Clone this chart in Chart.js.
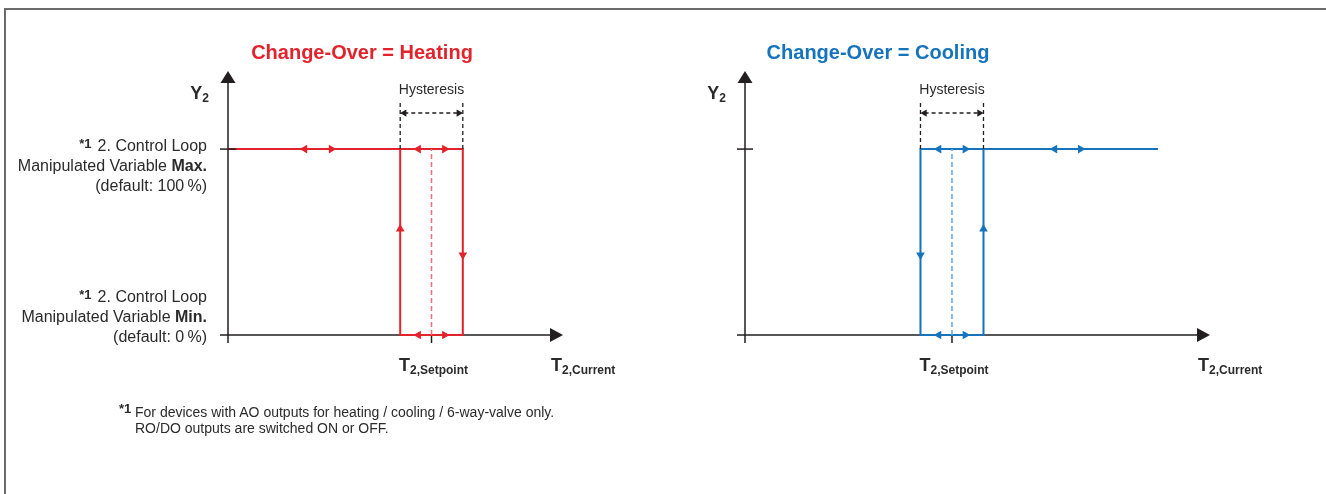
<!DOCTYPE html>
<html>
<head>
<meta charset="utf-8">
<script src="https://cdn.jsdelivr.net/npm/chart.js@4.4.1/dist/chart.umd.min.js"></script>
<style>
  html, body { margin: 0; padding: 0; background: #fff; width: 1326px; height: 494px; overflow: hidden; }
  body { position: relative; font-family: "Liberation Sans", Arial, Helvetica, sans-serif; color: #2b2b2b; }
  .frame { position: absolute; left: 4px; top: 8px; width: 1400px; height: 600px;
           border-top: 2px solid #6b6b6b; border-left: 2px solid #6b6b6b; }
  .panel { position: absolute; top: 0; }
  #heatCanvas { left: 0; }
  #coolCanvas { left: 660px; }
  .note-mark { position: absolute; left: 119px; top: 401px; font-size: 13px; font-weight: bold; }
  .note { position: absolute; left: 135px; top: 404px; font-size: 14px; line-height: 16px; }
</style>
</head>
<body>
<div class="frame"></div>
<canvas id="heatCanvas" class="panel" width="660" height="494"></canvas>
<canvas id="coolCanvas" class="panel" width="666" height="494"></canvas>
<div class="note-mark">*1</div>
<div class="note">For devices with AO outputs for heating / cooling / 6-way-valve only.<br>RO/DO outputs are switched ON or OFF.</div>
<script>
(function () {
  // Heating: top line from the axis, loop around the setpoint (hysteresis = +-1)
  const heatLoopX = [-6.5, 1, 1, -1, -1];
  const heatLoopY = [100, 100, 0, 0, 100];
  const heatArrowX = [-4.05, -3.2, -0.42, 0.42, -0.42, 0.42, -1, 1];
  const heatArrowY = [100, 100, 100, 100, 0, 0, 57, 43];
  const heatArrowDir = [270, 90, 270, 90, 270, 90, 0, 180];

  // Cooling: loop around the setpoint, then top line to the right
  const coolLoopX = [1, 1, -1, -1, 6.54];
  const coolLoopY = [100, 0, 0, 100, 100];
  const coolArrowX = [-0.42, 0.42, 3.26, 4.08, -0.42, 0.42, -1, 1];
  const coolArrowY = [100, 100, 100, 100, 0, 0, 43, 57];
  const coolArrowDir = [270, 90, 270, 90, 270, 90, 180, 0];

  const setpointX = [0, 0];
  const setpointY = [0, 100];
  const hystEdgeX = [-1, 1];
  const hystLineY = [100, 124.8];
  const hystArrowY = 119.4;
  const hystArrowX = [-0.87, 0.87];

  const heatRangeX = [-6.5, 4.2];
  const coolRangeX = [-6.57, 8.19];
  const rangeY = [0, 142];

  const maxLines = [
    [["2. Control Loop", false]],
    [["Manipulated Variable ", false], ["Max.", true]],
    [["(default: 100\u2009%)", false]],
  ];
  const minLines = [
    [["2. Control Loop", false]],
    [["Manipulated Variable ", false], ["Min.", true]],
    [["(default: 0\u2009%)", false]],
  ];

  const ink = "#231f20";
  const textInk = "#2b2b2b";
  const fontFamily = '"Liberation Sans", Arial, Helvetica, sans-serif';
  const red = "#e3232c";
  const redLight = "#ee6f76";
  const blue = "#1574bb";
  const blueLight = "#66a8da";

  function pts(xs, ys) {
    return xs.map(function (v, i) {
      return { x: v, y: Array.isArray(ys) ? ys[i] : ys };
    });
  }

  function font(size, bold) {
    return (bold ? "bold " : "") + size + "px " + fontFamily;
  }

  // draw a list of [text, bold] runs, right-aligned at x
  function drawRunsRight(ctx, runs, x, y, size) {
    let width = 0;
    runs.forEach(function (r) {
      ctx.font = font(size, r[1]);
      width += ctx.measureText(r[0]).width;
    });
    let cx = x - width;
    runs.forEach(function (r) {
      ctx.font = font(size, r[1]);
      ctx.fillText(r[0], cx, y);
      cx += ctx.measureText(r[0]).width;
    });
    return x - width;
  }

  // big letter with bold subscript
  function drawSubscripted(ctx, main, sub, x, y, align) {
    ctx.font = font(18, true);
    const w1 = ctx.measureText(main).width;
    ctx.font = font(12, true);
    const w2 = ctx.measureText(sub).width;
    let start = x;
    if (align === "center") start = x - (w1 + w2) / 2;
    if (align === "right") start = x - (w1 + w2);
    ctx.font = font(18, true);
    ctx.fillText(main, start, y);
    ctx.font = font(12, true);
    ctx.fillText(sub, start + w1, y + 3);
  }

  const diagramPlugin = {
    id: "diagram",
    beforeDatasetsDraw: function (chart) {
      const ctx = chart.ctx;
      const area = chart.chartArea;
      const sx = chart.scales.x;
      const sy = chart.scales.y;
      const ox = sx.getPixelForValue(sx.min);
      const oy = sy.getPixelForValue(0);
      const spx = sx.getPixelForValue(0);

      ctx.save();
      ctx.strokeStyle = ink;
      ctx.fillStyle = ink;
      ctx.lineWidth = 1.5;
      ctx.beginPath();
      ctx.moveTo(ox, oy + 8);
      ctx.lineTo(ox, area.top + 10);
      ctx.moveTo(ox - 8, oy);
      ctx.lineTo(area.right - 10, oy);
      ctx.moveTo(spx, oy);
      ctx.lineTo(spx, oy + 8);
      ctx.stroke();

      ctx.beginPath();
      ctx.moveTo(ox, area.top);
      ctx.lineTo(ox - 7.5, area.top + 12);
      ctx.lineTo(ox + 7.5, area.top + 12);
      ctx.closePath();
      ctx.fill();
      ctx.beginPath();
      ctx.moveTo(area.right, oy);
      ctx.lineTo(area.right - 13, oy - 7);
      ctx.lineTo(area.right - 13, oy + 7);
      ctx.closePath();
      ctx.fill();
      ctx.restore();
    },
    afterDatasetsDraw: function (chart, args, opts) {
      const ctx = chart.ctx;
      const area = chart.chartArea;
      const sx = chart.scales.x;
      const sy = chart.scales.y;
      const ox = sx.getPixelForValue(sx.min);
      const oy = sy.getPixelForValue(0);
      const maxY = sy.getPixelForValue(100);
      const spx = sx.getPixelForValue(0);

      ctx.save();
      // tick for the Max. level
      ctx.strokeStyle = ink;
      ctx.lineWidth = 1.5;
      ctx.beginPath();
      ctx.moveTo(ox - 8, maxY);
      ctx.lineTo(ox + 8, maxY);
      ctx.stroke();

      ctx.textBaseline = "alphabetic";
      ctx.fillStyle = opts.titleColor;
      ctx.font = font(20, true);
      ctx.textAlign = "center";
      ctx.fillText(opts.title, opts.titleX, 59);

      ctx.fillStyle = textInk;
      ctx.font = font(14, false);
      ctx.fillText("Hysteresis", spx, 94);

      ctx.textAlign = "left";
      drawSubscripted(ctx, "Y", "2", ox - 19, 99, "right");
      drawSubscripted(ctx, "T", "2,Setpoint", spx + 2, 371, "center");
      drawSubscripted(ctx, "T", "2,Current", area.right - 12, 371, "left");

      if (opts.sideLabels) {
        const right = ox - 21;
        [[maxLines, maxY + 2], [minLines, oy - 33]].forEach(function (block) {
          block[0].forEach(function (runs, i) {
            const start = drawRunsRight(ctx, runs, right, block[1] + i * 20, 16);
            if (i === 0) {
              ctx.font = font(13, true);
              ctx.textAlign = "right";
              ctx.fillText("*1", start - 6, block[1] - 3);
              ctx.textAlign = "left";
            }
          });
        });
      }
      ctx.restore();
    },
  };

  function lineSet(data, color, width, dash) {
    return {
      data: data,
      showLine: true,
      borderColor: color,
      backgroundColor: color,
      borderWidth: width,
      borderDash: dash || [],
      pointRadius: 0,
      clip: false,
    };
  }

  function arrowSet(data, dirs, color, radius) {
    return {
      data: data,
      showLine: false,
      pointStyle: "triangle",
      pointRadius: radius,
      pointRotation: dirs,
      backgroundColor: color,
      borderColor: color,
      borderWidth: 0,
      clip: false,
    };
  }

  function buildChart(canvas, cfg) {
    const datasets = [];
    hystEdgeX.forEach(function (v) {
      datasets.push(lineSet(pts([v, v], hystLineY), ink, 1.3, [4, 3]));
    });
    datasets.push(lineSet(pts(hystArrowX, hystArrowY), ink, 1.3, [4, 3]));
    datasets.push(arrowSet(pts(hystArrowX, hystArrowY), [270, 90], ink, 4.2));
    datasets.push(lineSet(pts(setpointX, setpointY), cfg.light, 1.5, [5, 3]));
    datasets.push(lineSet(pts(cfg.loopX, cfg.loopY), cfg.color, 2));
    datasets.push(arrowSet(pts(cfg.arrowX, cfg.arrowY), cfg.arrowDir, cfg.color, 5));

    return new Chart(canvas.getContext("2d"), {
      type: "scatter",
      data: { datasets: datasets },
      options: {
        responsive: false,
        animation: false,
        events: [],
        layout: { padding: cfg.padding },
        scales: {
          x: { type: "linear", display: false, min: cfg.rangeX[0], max: cfg.rangeX[1] },
          y: { type: "linear", display: false, min: rangeY[0], max: rangeY[1] },
        },
        plugins: {
          legend: { display: false },
          tooltip: { enabled: false },
          diagram: {
            title: cfg.title,
            titleColor: cfg.color,
            titleX: cfg.titleX,
            sideLabels: cfg.sideLabels,
          },
        },
      },
      plugins: [diagramPlugin],
    });
  }

  buildChart(document.getElementById("heatCanvas"), {
    title: "Change-Over = Heating",
    titleX: 362,
    color: red,
    light: redLight,
    loopX: heatLoopX,
    loopY: heatLoopY,
    arrowX: heatArrowX,
    arrowY: heatArrowY,
    arrowDir: heatArrowDir,
    rangeX: heatRangeX,
    padding: { left: 228, right: 97, top: 71, bottom: 159 },
    sideLabels: true,
  });

  buildChart(document.getElementById("coolCanvas"), {
    title: "Change-Over = Cooling",
    titleX: 218,
    color: blue,
    light: blueLight,
    loopX: coolLoopX,
    loopY: coolLoopY,
    arrowX: coolArrowX,
    arrowY: coolArrowY,
    arrowDir: coolArrowDir,
    rangeX: coolRangeX,
    padding: { left: 85, right: 116, top: 71, bottom: 159 },
    sideLabels: false,
  });
})();
</script>
</body>
</html>
